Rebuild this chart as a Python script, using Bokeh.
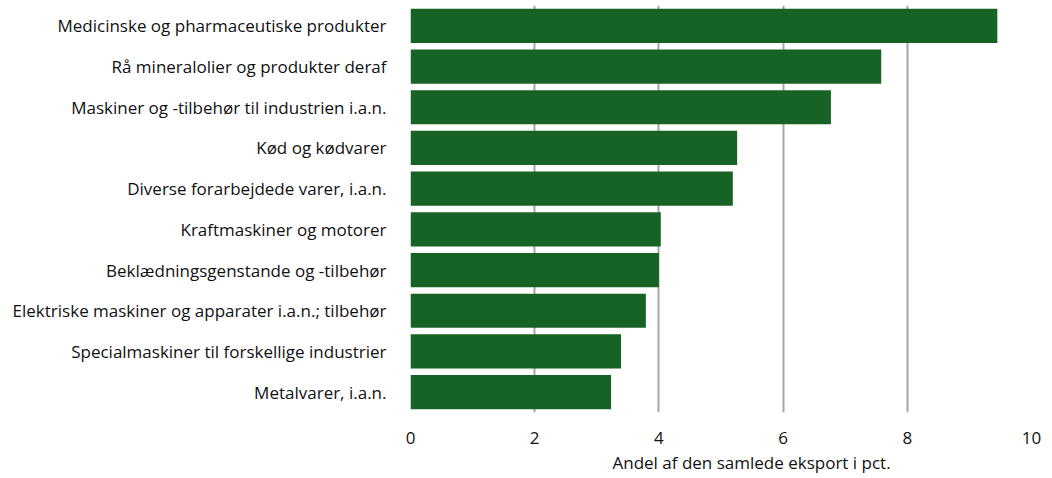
from bokeh.plotting import figure
from bokeh.models import Title, FixedTicker
from bokeh.embed import file_html
from bokeh.resources import INLINE

categories = [
    "Medicinske og pharmaceutiske produkter",
    "Rå mineralolier og produkter deraf",
    "Maskiner og -tilbehør til industrien i.a.n.",
    "Kød og kødvarer",
    "Diverse forarbejdede varer, i.a.n.",
    "Kraftmaskiner og motorer",
    "Beklædningsgenstande og -tilbehør",
    "Elektriske maskiner og apparater i.a.n.; tilbehør",
    "Specialmaskiner til forskellige industrier",
    "Metalvarer, i.a.n.",
]
values = [9.45, 7.58, 6.77, 5.26, 5.19, 4.03, 4.0, 3.79, 3.39, 3.23]
x_ticks = [0, 2, 4, 6, 8, 10]
x_title = "Andel af den samlede eksport i pct."

FONT = "Open Sans"

p = figure(
    width=1050, height=476,
    y_range=list(reversed(categories)),
    x_range=(0, 10),
    output_backend="svg", toolbar_location=None,
    min_border_left=410, min_border_right=19, min_border_top=5, min_border_bottom=40,
)
p.hbar(y=categories, right=values, left=0, height=0.84, color="#166325", line_color=None)

p.outline_line_color = None
p.background_fill_color = "white"
p.ygrid.grid_line_color = None
p.xgrid.grid_line_color = "#a6a6a6"
p.xgrid.grid_line_width = 2
p.xaxis.ticker = FixedTicker(ticks=x_ticks)

for ax in (p.xaxis[0], p.yaxis[0]):
    ax.axis_line_color = None
    ax.major_tick_line_color = None
    ax.minor_tick_line_color = None
    ax.major_label_text_font = FONT
    ax.major_label_text_font_size = "17px"
    ax.major_label_text_color = "#111111"
p.xaxis.major_label_standoff = 13
p.yaxis.major_label_standoff = 18

t = Title(text=x_title, align="left", offset=202, text_font=FONT,
          text_font_size="17px", text_font_style="normal", text_color="#111111",
          standoff=5)
p.add_layout(t, "below")

open("out.html", "w").write(file_html(p, INLINE))
